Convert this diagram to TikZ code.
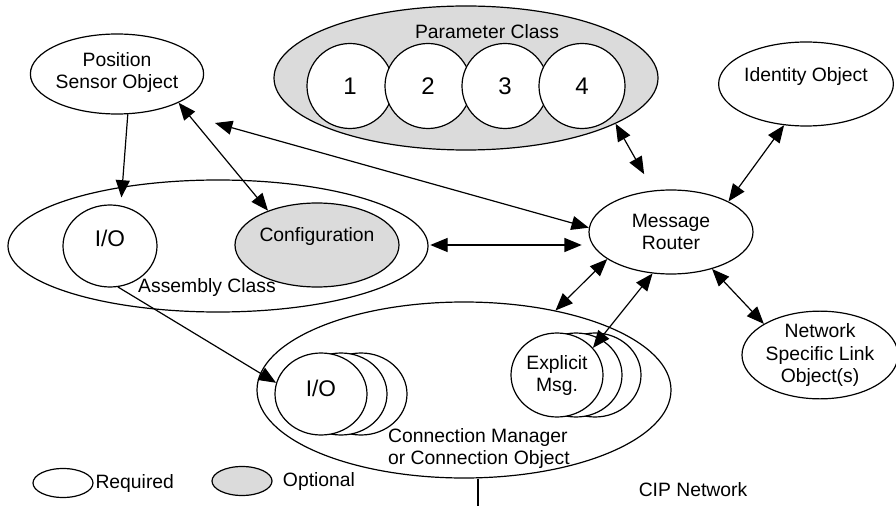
\documentclass[tikz,border=0pt]{standalone}
\usepackage{fontspec}
\setmainfont{Liberation Sans}
\usetikzlibrary{shapes.geometric,arrows.meta}
\definecolor{optgray}{gray}{0.86}

\begin{document}
\begin{tikzpicture}[
  x=0.75pt, y=-0.75pt, line width=0.9pt,
  font=\fontsize{14.5}{16.5}\selectfont,
  obj/.style = {ellipse, draw, fill=white, inner sep=0pt, align=center},
  opt/.style = {obj, fill=optgray},
  lift/.style = {text depth=#1},
  big/.style = {font=\fontsize{17}{19}\selectfont},
  num/.style = {obj, minimum width=64.5pt, minimum height=63.75pt, font=\fontsize{18}{20}\selectfont},
  oneway/.style = {-{Triangle[length=13pt,width=10.5pt]}},
  twoway/.style = {{Triangle[length=13pt,width=10.5pt]}-{Triangle[length=13pt,width=10.5pt]}}
  ]
  \useasboundingbox (0,0) rectangle (896,506);

  % parameter class
  \node[opt, minimum width=288pt, minimum height=108pt] (param) at (466,78) {};
  \node (paramtext) at (487,32) {Parameter Class};
  \foreach \n/\x in {1/350,2/428,3/505,4/582}
    \node[num] (p\n) at (\x,86) {\n};

  % assembly class
  \node[obj, minimum width=315pt, minimum height=99pt] (asm) at (218,246) {};
  \node[obj, big, minimum width=70.5pt, minimum height=61.5pt, lift=11pt] (asmio) at (110,246) {I/O};
  \node[opt, minimum width=123pt, minimum height=63pt, lift=16pt] (config) at (317,245) {Configuration};
  \node (asmtext) at (207,288) {Assembly Class};

  % connection manager
  \node[obj, minimum width=310.5pt, minimum height=132pt] (connmgr) at (464,390) {};
  \foreach \x [count=\i] in {361,341} {
    \node[obj, minimum width=69pt, minimum height=61.5pt] (cmio\i) at (\x,394) {};
  }
  \node[obj, big, minimum width=69pt, minimum height=61.5pt, lift=8pt] (cmio) at (321,394) {I/O};
  \foreach \x [count=\i] in {595,576} {
    \node[obj, minimum width=69pt, minimum height=63pt] (expl\i) at (\x,375) {};
  }
  \node[obj, minimum width=69pt, minimum height=63pt] (expl) at (557,375) {Explicit\\Msg.};
  \node[anchor=west, align=left] (connmgrtext) at (383,448) {Connection Manager\\or Connection Object};

  % other objects
  \node[obj, minimum width=123pt, minimum height=60pt, lift=6pt] (psens) at (117,74) {Position\\Sensor Object};
  \node[obj, minimum width=126pt, minimum height=63pt, lift=14pt] (ident) at (806,84) {Identity Object};
  \node[obj, minimum width=123pt, minimum height=63pt] (router) at (671,232) {Message\\Router};
  \node[obj, minimum width=117pt, minimum height=63pt] (netlink) at (820,355) {Network\\Specific Link\\Object(s)};

  \node (cip) at (693,490) {CIP Network};
  \coordinate (netline) at (478,506);
  \draw (connmgr.south -| netline) -- (netline);

  % legend
  \node[obj, minimum width=45pt, minimum height=21.75pt] (req) at (63,483) {};
  \node[anchor=west, inner sep=1pt] (reqtext) at (req.east) {Required};
  \node[opt, minimum width=45pt, minimum height=21.75pt] (optl) at (242,481) {};
  \node[anchor=west] (opttext) at ([xshift=4pt]optl.east) {Optional};

  % connections
  \coordinate (psensgap) at (215,123);
  \draw[oneway, shorten >=6pt] (psens.-75) -- (asmio.75);
  \draw[twoway] (psens.-25) -- (config.145);
  \draw[twoway] (psensgap) -- (router.177);
  \draw[twoway, shorten <=23pt, shorten >=5pt] (config.east) -- (config.east -| router.west);
  \draw[twoway, shorten >=14pt] (param.-17) -- (router.113);
  \draw[twoway] (ident.-118) -- (router.28);
  \draw[twoway] (router.-157) -- (connmgr.41);
  \draw[twoway] (router.-114) -- (expl.37);
  \draw[twoway] (router.-42) -- (netlink.151);
  \draw[oneway] (asmio.-79) -- (cmio.166);
\end{tikzpicture}
\end{document}
